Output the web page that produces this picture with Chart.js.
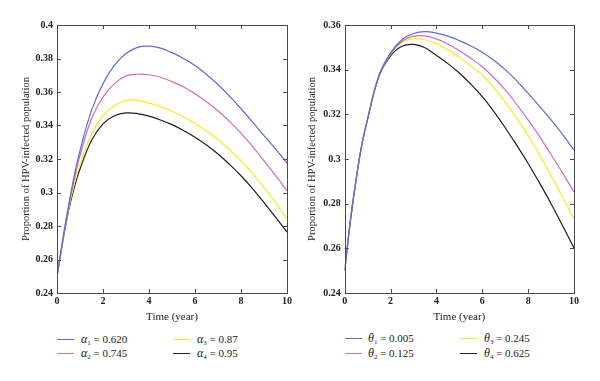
<!DOCTYPE html>
<html><head><meta charset="utf-8">
<script src="https://cdn.jsdelivr.net/npm/chart.js@4/dist/chart.umd.min.js"></script>
<style>
html,body{margin:0;padding:0;background:#fff;}
#wrap{position:relative;width:600px;height:381px;overflow:hidden;background:#fff;}
.cv{position:absolute;top:0;}
.item{position:absolute;white-space:nowrap;font-family:"Liberation Serif",serif;font-size:11px;line-height:14px;color:#222;}
.item i{font-style:italic;font-size:12px;}
.item sub{font-size:7px;vertical-align:-2px;line-height:0;}
.sw{position:absolute;height:0;width:17px;border-top:1.3px solid;}
</style></head>
<body><div id="wrap">
<canvas id="c1" class="cv" width="300" height="325" style="left:0"></canvas>
<canvas id="c2" class="cv" width="300" height="325" style="left:300px"></canvas>
<div id="leg"></div>
</div>
<script>
// ---- data ----
const time = [0,0.25,0.5,0.75,1,1.5,2,2.5,3,3.5,4,4.5,5,5.5,6,6.5,7,7.5,8,8.5,9,9.5,10];
const xTicks = [0,2,4,6,8,10];
const yTicksLeft = [0.24,0.26,0.28,0.30,0.32,0.34,0.36,0.38,0.40];
const yTicksRight = [0.24,0.26,0.28,0.30,0.32,0.34,0.36];

const alphaLabels = ['0.620','0.745','0.87','0.95'];
const alpha1 = [0.25,0.272,0.292,0.310,0.325,0.349,0.365,0.376,0.383,0.3866,0.3874,0.3862,0.3835,0.3800,0.3758,0.3705,0.3645,0.3575,0.3500,0.3422,0.3340,0.3260,0.3176];
const alpha2 = [0.25,0.2715,0.291,0.308,0.322,0.344,0.357,0.365,0.3696,0.3706,0.3703,0.3688,0.3662,0.3630,0.3590,0.3542,0.3487,0.3425,0.3355,0.3275,0.3190,0.3102,0.3011];
const alpha3 = [0.25,0.271,0.290,0.305,0.317,0.335,0.346,0.352,0.3550,0.3550,0.3535,0.3513,0.3485,0.3451,0.3412,0.3366,0.3315,0.3255,0.3190,0.3113,0.3030,0.2938,0.2842];
const alpha4 = [0.25,0.2705,0.289,0.303,0.314,0.331,0.341,0.3458,0.3475,0.3471,0.3456,0.3433,0.3405,0.3370,0.3330,0.3283,0.3230,0.3168,0.3100,0.3023,0.2940,0.2853,0.2764];

const thetaLabels = ['0.005','0.125','0.245','0.625'];
const theta1 = [0.25,0.2725,0.291,0.3065,0.318,0.3375,0.3475,0.3535,0.3562,0.3570,0.3564,0.3550,0.3530,0.3506,0.3478,0.3442,0.3400,0.3350,0.3294,0.3236,0.3175,0.3110,0.3040];
const theta2 = [0.25,0.2725,0.291,0.3065,0.318,0.3375,0.3472,0.3527,0.3550,0.3551,0.3538,0.3515,0.3485,0.3451,0.3413,0.3365,0.3310,0.3245,0.3175,0.3100,0.3020,0.2938,0.2853];
const theta3 = [0.25,0.2725,0.291,0.3065,0.318,0.3375,0.3470,0.3522,0.3538,0.3534,0.3516,0.3489,0.3455,0.3417,0.3376,0.3320,0.3255,0.3183,0.3105,0.3018,0.2925,0.2830,0.2734];
const theta4 = [0.25,0.2725,0.291,0.3065,0.318,0.3372,0.3462,0.3505,0.3513,0.3498,0.3464,0.3427,0.3385,0.3335,0.3279,0.3213,0.3140,0.3062,0.2980,0.2892,0.2800,0.2702,0.2602];

const colors = ['#5f6bcf','#cc6cbf','#f7ea2a','#1e1e1e'];

// ---- helpers ----
const pts = arr => arr.map((v,i)=>({x:time[i], y:v}));
const boxTicks = {
  id:'boxTicks',
  afterDraw(chart){
    const {ctx, chartArea:a, scales:{x,y}} = chart;
    ctx.save();
    ctx.strokeStyle='#4a4a4a'; ctx.lineWidth=1;
    ctx.beginPath();
    x.ticks.forEach(t=>{
      const p=Math.round(x.getPixelForValue(t.value))+0.5;
      ctx.moveTo(p,a.bottom); ctx.lineTo(p,a.bottom-4);
      ctx.moveTo(p,a.top); ctx.lineTo(p,a.top+4);
    });
    y.ticks.forEach(t=>{
      const p=Math.round(y.getPixelForValue(t.value))+0.5;
      ctx.moveTo(a.left,p); ctx.lineTo(a.left+4,p);
      ctx.moveTo(a.right,p); ctx.lineTo(a.right-4,p);
    });
    ctx.stroke();
    ctx.strokeRect(Math.round(a.left)+0.5, Math.round(a.top)+0.5, Math.round(a.width), Math.round(a.height));
    ctx.restore();
  }
};

function makeChart(id, series, yTicks, yw, rightPad, titlePadTop){
  const ymin = yTicks[0], ymax = yTicks[yTicks.length-1];
  return new Chart(document.getElementById(id), {
    type:'line',
    data:{datasets: series.map((s,i)=>({data:pts(s), borderColor:colors[i], borderWidth:1.2, pointRadius:0, fill:false, tension:0.4}))},
    options:{
      responsive:false, animation:false, devicePixelRatio:1,
      layout:{padding:{top:25,right:rightPad,left:0,bottom:0}},
      plugins:{legend:{display:false}, tooltip:{enabled:false}},
      scales:{
        x:{type:'linear', min:0, max:10,
          afterBuildTicks:s=>{s.ticks = xTicks.map(v=>({value:v}));},
          afterFit:s=>{s.height=32;},
          grid:{display:false, drawTicks:false}, border:{display:false},
          ticks:{padding:2, color:'#222', font:{family:'Liberation Serif', size:10, weight:'bold'}, maxRotation:0},
          title:{display:true, text:'Time (year)', color:'#222', font:{family:'Liberation Serif', size:11}, padding:{top:0,bottom:1.5}}
        },
        y:{type:'linear', min:ymin, max:ymax,
          afterBuildTicks:s=>{s.ticks = yTicks.map(v=>({value:v}));},
          afterFit:s=>{s.width=yw;},
          grid:{display:false, drawTicks:false}, border:{display:false},
          ticks:{padding:4, color:'#222', font:{family:'Liberation Serif', size:10, weight:'bold'}, callback:v=>String(+v.toFixed(2))},
          title:{display:true, text:'Proportion of HPV-infected population', color:'#222', font:{family:'Liberation Serif', size:10.5}, padding:{top:titlePadTop,bottom:0}}
        }
      }
    },
    plugins:[boxTicks]
  });
}

makeChart('c1', [alpha1,alpha2,alpha3,alpha4], yTicksLeft, 57, 13, 19.5);
makeChart('c2', [theta1,theta2,theta3,theta4], yTicksRight, 44.7, 26, 6.4);

// ---- legends ----
const leg = document.getElementById('leg');
function addLegend(sym, labels, cols, rows){
  labels.forEach((lab,i)=>{
    const c = cols[Math.floor(i/2)], r = rows[i%2];
    const sw = document.createElement('div');
    sw.className='sw'; sw.style.left=c[0]+'px'; sw.style.top=(r-0.5)+'px'; sw.style.borderColor=colors[i];
    leg.appendChild(sw);
    const it = document.createElement('div');
    it.className='item'; it.style.left=c[1]+'px'; it.style.top=(r-7.5)+'px';
    it.innerHTML = '<i>'+sym+'</i><sub>'+(i+1)+'</sub> = '+lab;
    leg.appendChild(it);
  });
}
addLegend('α', alphaLabels, [[57,81],[173,197]], [339,353]);
addLegend('θ', thetaLabels, [[345,368],[460,484]], [338,353]);
</script>
</body></html>
